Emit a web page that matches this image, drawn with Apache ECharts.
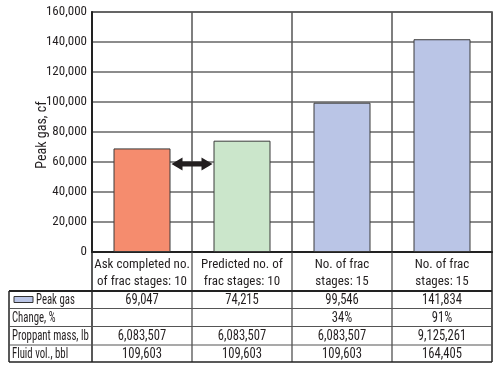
<!DOCTYPE html>
<html><head><meta charset="utf-8">
<script src="https://cdn.jsdelivr.net/npm/echarts@6/dist/echarts.min.js"></script>
<style>html,body{margin:0;padding:0;background:#fff}#c{width:500px;height:371px}</style>
</head><body><div id="c"></div>
<script>
const categories = ['Ask completed no.\nof frac stages: 10', 'Predicted no. of\nfrac stages: 10', 'No. of frac\nstages: 15', 'No. of frac\nstages: 15'];
const peakGas = [69047, 74215, 99546, 141834];
const barColors = ['#F58C6E', '#CBE6CB', '#BAC5E6', '#BAC5E6'];
const rowTitles = ['Peak gas', 'Change, %', 'Proppant mass, lb', 'Fluid vol., bbl'];
const changePct = ['', '', '34%', '91%'];
const proppantMass = ['6,083,507', '6,083,507', '6,083,507', '9,125,261'];
const fluidVol = ['109,603', '109,603', '109,603', '164,405'];
const yTicks = { min: 0, max: 160000, interval: 20000 };
const arrowValue = 58700;

const FONT = '"Roboto Condensed","Open Sans Condensed","Liberation Sans Narrow",sans-serif';
const fmt = v => Number(v).toLocaleString('en-US');
const TXT = '#231f20';

const chart = echarts.init(document.getElementById('c'), null, {renderer: 'canvas'});
chart.setOption({
  animation: false,
  grid: {left: 92, right: 8, top: 12, bottom: 119, show: true, borderColor: '#333', borderWidth: 1.5},
  xAxis: {
    type: 'category', data: categories,
    axisLine: {lineStyle: {color: '#222', width: 2}},
    axisTick: {show: false},
    splitLine: {show: true, interval: 0, lineStyle: {color: '#555', width: 1.5}},
    axisLabel: {interval: 0, margin: 4, fontFamily: FONT, fontSize: 13, color: TXT, lineHeight: 17}
  },
  yAxis: {
    type: 'value', min: yTicks.min, max: yTicks.max, interval: yTicks.interval,
    name: 'Peak gas, cf', nameLocation: 'middle', nameGap: 43, nameMoveOverlap: false,
    nameTextStyle: {fontFamily: FONT, fontSize: 14, color: TXT, padding: [0, 0, 0, -6]},
    axisLine: {show: true, lineStyle: {color: '#222', width: 2}},
    axisTick: {show: false},
    splitLine: {lineStyle: {color: '#666', width: 1.5}},
    axisLabel: {formatter: fmt, fontFamily: FONT, fontSize: 13, color: TXT, margin: 5}
  },
  series: [{
    type: 'bar', barWidth: '57%',
    data: peakGas.map((v, i) => ({value: v, itemStyle: {color: barColors[i]}})),
    itemStyle: {borderColor: '#3a3a3a', borderWidth: 1}
  }]
});

const cx = categories.map((c, i) => chart.convertToPixel({xAxisIndex: 0}, i));
const y0 = chart.convertToPixel({yAxisIndex: 0}, 0);
const half = (cx[1] - cx[0]) / 2;
const xL = cx[0] - half, xR = cx[3] + half;
const tableLeft = 9;
const rowEdges = [291, 308.5, 326.5, 345, 362];
const rows = [peakGas.map(fmt), changePct, proppantMass, fluidVol];
const g = [];
const line = (x1, y1, x2, y2, w, c) => g.push({type: 'line', shape: {x1, y1, x2, y2}, style: {stroke: c, lineWidth: w}, z: 10});
for (let i = 0; i <= 4; i++) {
  const x = xL + i * 2 * half;
  const outer = (i === 0 || i === 4);
  line(x, y0, x, rowEdges[4], outer ? 1.5 : 1.2, outer ? '#222' : '#444');
}
line(tableLeft, rowEdges[0], tableLeft, rowEdges[4], 1.5, '#222');
rowEdges.forEach((y, k) => line(tableLeft, y, xR, y, k === 0 ? 2 : (k === 4 ? 1.5 : 1.2), (k === 0 || k === 4) ? '#222' : '#555'));
const tfont = '14px ' + FONT;
rows.forEach((r, k) => {
  const yc = (rowEdges[k] + rowEdges[k + 1]) / 2;
  r.forEach((t, i) => g.push({type: 'text', x: cx[i], y: yc + 0.5, scaleX: 0.9, style: {text: t, font: tfont, fill: TXT, align: 'center', verticalAlign: 'middle'}, z: 11}));
  g.push({type: 'text', x: k === 0 ? 36 : 12, y: yc + 0.5, scaleX: 0.77, style: {text: rowTitles[k], font: tfont, fill: TXT, align: 'left', verticalAlign: 'middle'}, z: 11});
});
g.push({type: 'rect', shape: {x: 14, y: 296.5, width: 19, height: 6}, style: {fill: barColors[3], stroke: '#333', lineWidth: 1}, z: 11});
const barHalf = half * 2 * 0.57 / 2;
const ax1 = cx[0] + barHalf + 1, ax2 = cx[1] - barHalf - 1;
const ay = chart.convertToPixel({yAxisIndex: 0}, arrowValue);
const hl = 11, hh = 6.5, sh = 2.5;
g.push({type: 'polygon', shape: {points: [
  [ax1, ay], [ax1 + hl, ay - hh], [ax1 + hl, ay - sh], [ax2 - hl, ay - sh], [ax2 - hl, ay - hh], [ax2, ay],
  [ax2 - hl, ay + hh], [ax2 - hl, ay + sh], [ax1 + hl, ay + sh], [ax1 + hl, ay + hh]
]}, style: {fill: TXT}, z: 12});
chart.setOption({graphic: g});
</script></body></html>
